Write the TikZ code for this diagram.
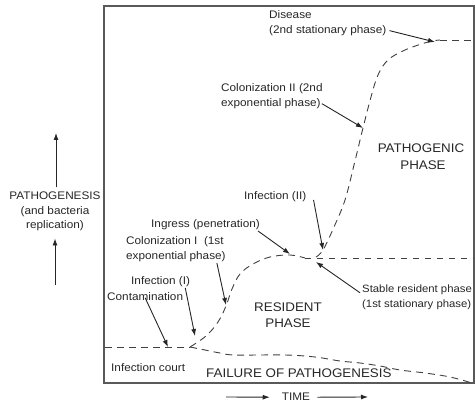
\documentclass[tikz,border=0pt]{standalone}
\usepackage{fontspec}
\newfontfamily\lab[FakeStretch=1.07]{Liberation Sans}
\usetikzlibrary{arrows.meta}
\tikzset{
  lbl/.style={font={\lab\fontsize{11}{13}\selectfont}, inner sep=1pt, text=black!85},
  lbls/.style={font={\lab\fontsize{10.6}{13}\selectfont}, inner sep=1pt, text=black!85},
  capl/.style={font={\lab\fontsize{12.5}{15}\selectfont}, inner sep=1pt, text=black!85},
  curve/.style={draw=black!75, line width=0.9pt, dash pattern=on 7pt off 5pt},
  ptr/.style={draw=black!85, line width=0.9pt, -{Latex[length=7pt,width=5pt]}},
  frame/.style={draw=black!65, line width=1.3pt}
}
\begin{document}
\begin{tikzpicture}[x=1pt,y=-1pt]
\useasboundingbox (0,0) rectangle (475,403);
% frame
\draw[frame] (104,6) rectangle (474,383);

% curves
\draw[curve] (105,347) -- (190,347);
\draw[curve] plot[smooth, tension=0.6] coordinates {(190,347) (206,336) (218,322) (226,306) (232,289) (240,274) (253,264) (270,257) (290,255) (305,258)};
\draw[curve, dash pattern=on 6pt off 6pt] (305,258) -- (474,258);
\draw[curve] plot[smooth, tension=0.6] coordinates {(316,257) (323,250) (334,227) (345,200) (354,165) (363,128) (371,97) (378,75) (388,60) (405,50) (428,42) (440,40)};
\draw[curve] (440,40) -- (474,40);
\draw[curve] plot[smooth, tension=0.6] coordinates {(190,347) (205,350) (220,353) (235,355) (285,355) (315,357) (340,361) (360,363) (380,366) (400,370) (425,373) (450,377) (472,383)};

% arrow tips
\coordinate (tdis) at (435,42);
\coordinate (tcol2) at (363,128);
\coordinate (tingr) at (290,254);
\coordinate (tinf2) at (323,250);
\coordinate (tstab) at (316,262);
\coordinate (tcol1) at (226,305);
\coordinate (tinf1) at (195,336);
\coordinate (tcont) at (168,347);

% labels
\node[lbl, anchor=base west] (dis1) at (268,18.5) {Disease};
\node[lbl, anchor=base west] (dis2) at (268,33.5) {(2nd stationary phase)};
\node[lbl, anchor=base west] (col2a) at (220,91.5) {Colonization II (2nd};
\node[lbl, anchor=base west] (col2b) at (220,106.5) {exponential phase)};
\node[lbl, anchor=base west] (inf2) at (243,199.5) {Infection (II)};
\node[lbl, anchor=base west] (ingr) at (150,227.5) {Ingress (penetration)};
\node[lbl, anchor=base west] (col1a) at (125,244.5) {Colonization I\ \ (1st};
\node[lbl, anchor=base west] (col1b) at (125,259.5) {exponential phase)};
\node[lbl, anchor=base west] (inf1) at (130,284.5) {Infection (I)};
\node[lbl, anchor=base west] (cont) at (106,300.5) {Contamination};
\node[lbls, anchor=base west] (stab1) at (361,292.5) {Stable resident phase};
\node[lbls, anchor=base west] (stab2) at (361,307.5) {(1st stationary phase)};
\node[lbl, anchor=base west] (court) at (110,371.5) {Infection court};

\node[capl, anchor=base] (path1) at (421,153) {PATHOGENIC};
\node[capl, anchor=base] (path2) at (423,170) {PHASE};
\node[capl, anchor=base] (res1) at (288,312) {RESIDENT};
\node[capl, anchor=base] (res2) at (288,328) {PHASE};
\node[capl, anchor=base west] (fail) at (205,378) {FAILURE OF PATHOGENESIS};

% left axis
\node[lbl, anchor=base] (ax1) at (55,200) {PATHOGENESIS};
\node[lbl, anchor=base] (ax2) at (55,215) {(and bacteria};
\node[lbl, anchor=base] (ax3) at (55,229) {replication)};
\coordinate (axtop) at (56,133);
\coordinate (axbot) at (55,285);
\draw[ptr] (ax1.north) ++(1,-4) coordinate (axs) (axs) -- (axtop);
\draw[ptr] (axbot) -- ([yshift=-6pt]ax3.south);

% time axis
\node[lbl, anchor=base] (time) at (296,401) {TIME};
\coordinate (tl) at (226,397);
\coordinate (tr) at (368,397);
\draw[ptr] (tl) -- ([xshift=-11pt]time.west);
\draw[ptr] ([xshift=6pt]time.east) -- (tr);

% pointer arrows
\draw[ptr] ([xshift=2pt]dis2.east) -- (tdis);
\draw[ptr] (col2b.east) -- (tcol2);
\draw[ptr] ([xshift=-3pt]ingr.south east) -- (tingr);
\draw[ptr] ([xshift=6pt,yshift=3pt]inf2.south east) -- (tinf2);
\draw[ptr] ([xshift=-10pt]col1b.south east) -- (tcol1);
\draw[ptr] ([xshift=-6pt]inf1.south east) -- (tinf1);
\draw[ptr] ([yshift=4pt]cont.south) -- (tcont);
\draw[ptr] ([xshift=-1pt,yshift=-3pt]stab1.west) -- (tstab);
\end{tikzpicture}
\end{document}
